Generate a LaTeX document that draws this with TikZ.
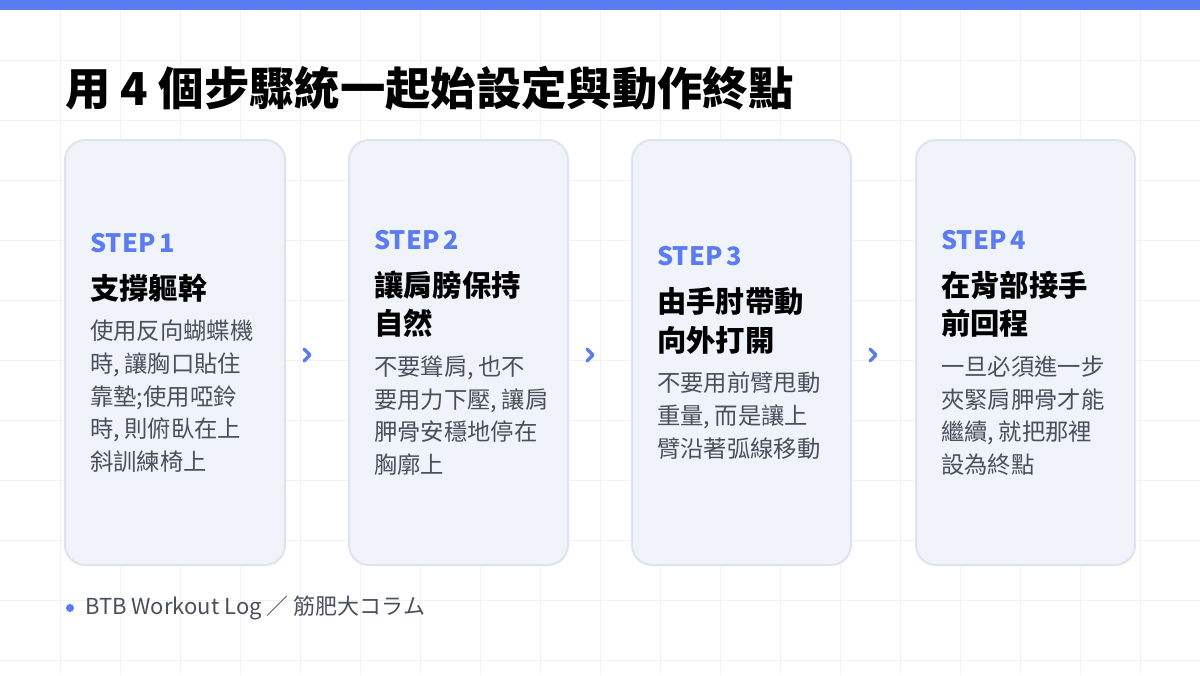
\documentclass[tikz,border=0pt]{standalone}
\usepackage{fontspec}
\setmainfont{Noto Sans CJK TC}
\usepackage{tikz}
\definecolor{accent}{HTML}{5B7CF0}
\definecolor{cardfill}{HTML}{F1F3FB}
\definecolor{cardline}{HTML}{DFE3F0}
\definecolor{bodygray}{HTML}{4A4F5C}
\definecolor{gridline}{HTML}{F1F2F5}
\tikzset{
  card/.style={draw=cardline, line width=1.5pt, fill=cardfill, rounded corners=15pt},
  stepbox/.style={anchor=west, inner sep=0pt, align=left, text width=175pt},
  chev/.style={accent, line width=2.6pt, line cap=round, line join=round}
}
\newcommand{\steplabel}[1]{{\color{accent}\fontsize{19pt}{24pt}\selectfont\bfseries #1\par}\vspace{6pt}}
\newcommand{\stephead}[1]{{\fontsize{22pt}{29pt}\selectfont\bfseries #1\par}\vspace{6pt}}
\newcommand{\stepbody}[1]{{\color{bodygray}\fontsize{17.5pt}{24.5pt}\selectfont #1\par}}
\begin{document}
\begin{tikzpicture}[x=0.75pt,y=0.75pt,yscale=-1,xscale=1]
\useasboundingbox (0,0) rectangle (1200,675);
\fill[white] (0,0) rectangle (1200,675);

%grid
\foreach \gx in {60,120,...,1140}
  \draw[gridline, line width=0.6pt] (\gx,0) -- (\gx,675);
\foreach \gy in {60,120,...,660}
  \draw[gridline, line width=0.6pt] (0,\gy) -- (1200,\gy);

%top bar
\fill[accent] (0,0) rectangle (1200,10);

%title
\node[anchor=west, inner sep=0pt] (title) at (65,88)
  {\fontsize{34pt}{40pt}\selectfont\bfseries 用 4 個步驟統一起始設定與動作終點};

%cards
\draw[card] (65,140) rectangle (285,565);
\draw[card] (349,140) rectangle (568,565);
\draw[card] (632,140) rectangle (851,565);
\draw[card] (916,140) rectangle (1135,565);

\node[stepbox] (s1) at (90,353) {\steplabel{STEP 1}\stephead{支撐軀幹}\stepbody{使用反向蝴蝶機\\時, 讓胸口貼住\\靠墊;使用啞鈴\\時, 則俯臥在上\\斜訓練椅上}};
\node[stepbox] (s2) at (374,353) {\steplabel{STEP 2}\stephead{讓肩膀保持\\自然}\stepbody{不要聳肩, 也不\\要用力下壓, 讓肩\\胛骨安穩地停在\\胸廓上}};
\node[stepbox] (s3) at (657,353) {\steplabel{STEP 3}\stephead{由手肘帶動\\向外打開}\stepbody{不要用前臂甩動\\重量, 而是讓上\\臂沿著弧線移動}};
\node[stepbox] (s4) at (941,353) {\steplabel{STEP 4}\stephead{在背部接手\\前回程}\stepbody{一旦必須進一步\\夾緊肩胛骨才能\\繼續, 就把那裡\\設為終點}};

%chevrons
\foreach \cx in {307,590,873}
  \draw[chev] (\cx-3,349) -- (\cx+3,355) -- (\cx-3,361);

%footer
\fill[accent] (70,608) circle (4);
\node[anchor=west, inner sep=0pt, text=bodygray] (foot) at (85,608)
  {\fontsize{16.5pt}{20pt}\selectfont BTB Workout Log ／ 筋肥大コラム};
\end{tikzpicture}
\end{document}
